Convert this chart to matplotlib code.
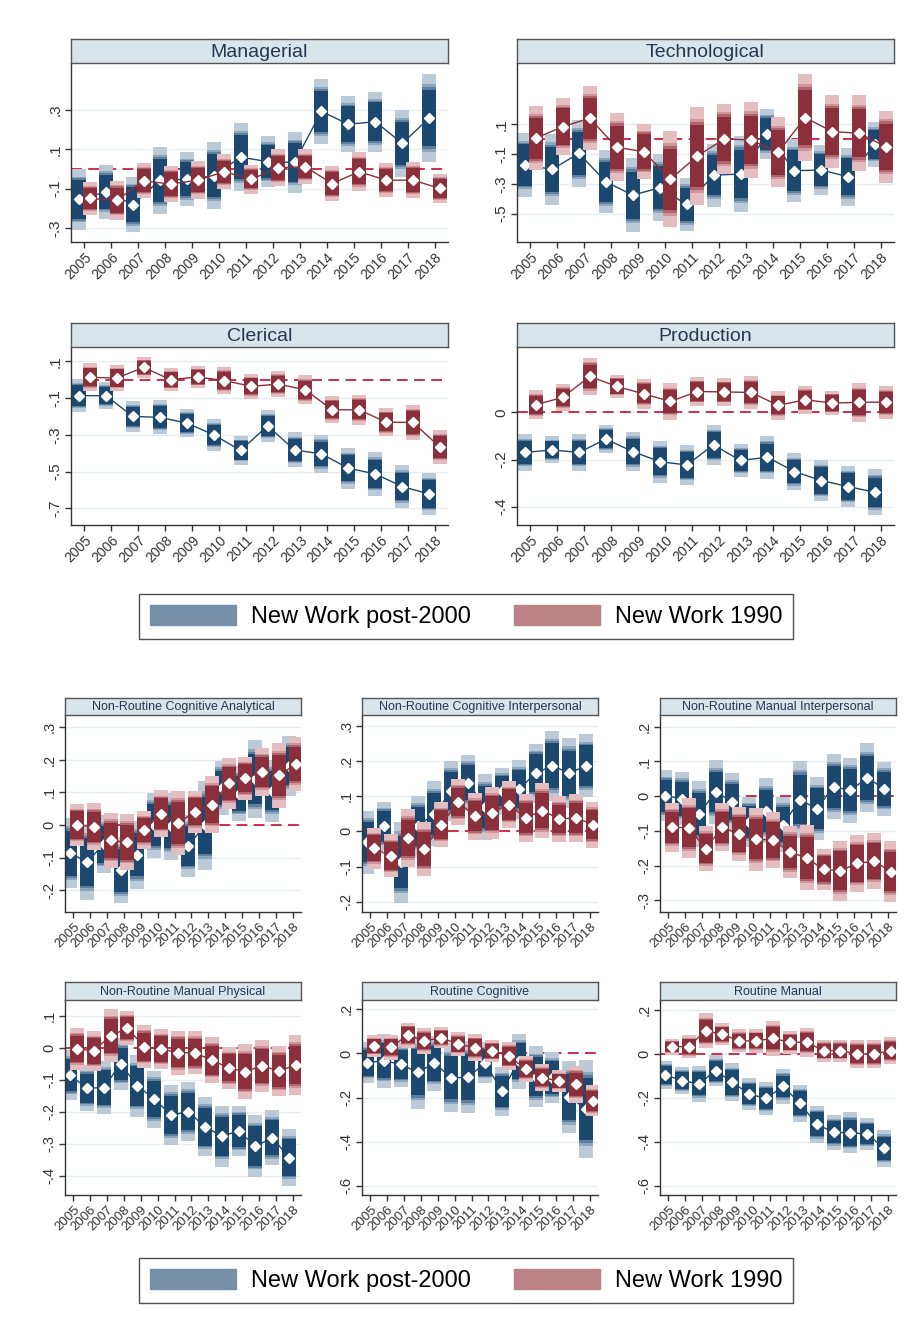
import matplotlib.pyplot as plt
from matplotlib.patches import Patch
import numpy as np

plt.rcParams['font.family'] = ['Liberation Sans', 'DejaVu Sans']

years = np.arange(2005, 2019)

# point estimates and 99% half-widths: post-2000 new work / 1990 new work
managerial_post = [-0.155, -0.116, -0.181, -0.057, -0.052, -0.035, 0.060, 0.037, 0.033, 0.292, 0.227, 0.240, 0.130, 0.258]
managerial_post_ci = [0.153, 0.136, 0.140, 0.170, 0.136, 0.170, 0.172, 0.131, 0.153, 0.163, 0.142, 0.153, 0.170, 0.225]
managerial_1990 = [-0.150, -0.159, -0.060, -0.077, -0.057, -0.014, -0.052, 0.006, 0.011, -0.074, -0.014, -0.057, -0.057, -0.099]
managerial_1990_ci = [0.085, 0.100, 0.090, 0.093, 0.095, 0.088, 0.073, 0.095, 0.088, 0.090, 0.100, 0.088, 0.093, 0.075]

technological_post = [-0.174, -0.203, -0.096, -0.287, -0.376, -0.327, -0.439, -0.242, -0.235, 0.035, -0.212, -0.208, -0.253, -0.035]
technological_post_ci = [0.216, 0.238, 0.227, 0.211, 0.247, 0.225, 0.178, 0.211, 0.256, 0.169, 0.213, 0.166, 0.193, 0.150]
technological_1990 = [0.006, 0.084, 0.140, -0.055, -0.084, -0.269, -0.113, 0.001, -0.006, -0.089, 0.145, 0.051, 0.039, -0.051]
technological_1990_ci = [0.216, 0.191, 0.216, 0.229, 0.184, 0.321, 0.329, 0.236, 0.254, 0.236, 0.293, 0.247, 0.254, 0.243]

clerical_post = [-0.087, -0.087, -0.200, -0.205, -0.236, -0.300, -0.385, -0.251, -0.382, -0.404, -0.482, -0.513, -0.582, -0.622]
clerical_post_ci = [0.090, 0.073, 0.084, 0.093, 0.076, 0.087, 0.078, 0.087, 0.095, 0.105, 0.111, 0.118, 0.116, 0.116]
clerical_1990 = [0.013, 0.009, 0.067, 0.000, 0.015, -0.005, -0.036, -0.024, -0.055, -0.164, -0.164, -0.231, -0.233, -0.367]
clerical_1990_ci = [0.076, 0.073, 0.056, 0.062, 0.060, 0.075, 0.067, 0.069, 0.078, 0.073, 0.082, 0.076, 0.096, 0.091]

production_post = [-0.170, -0.159, -0.170, -0.113, -0.166, -0.209, -0.223, -0.138, -0.204, -0.190, -0.251, -0.289, -0.315, -0.339]
production_post_ci = [0.078, 0.057, 0.078, 0.061, 0.084, 0.089, 0.085, 0.084, 0.070, 0.091, 0.078, 0.089, 0.088, 0.098]
production_1990 = [0.033, 0.064, 0.153, 0.111, 0.079, 0.047, 0.089, 0.087, 0.085, 0.030, 0.054, 0.040, 0.043, 0.044]
production_1990_ci = [0.061, 0.057, 0.079, 0.048, 0.064, 0.077, 0.061, 0.058, 0.071, 0.060, 0.060, 0.052, 0.082, 0.070]

nrca_post = [-0.086, -0.113, -0.059, -0.139, -0.091, -0.001, -0.004, -0.064, -0.001, 0.113, 0.096, 0.140, 0.105, 0.180]
nrca_post_ci = [0.108, 0.115, 0.089, 0.101, 0.104, 0.100, 0.102, 0.094, 0.136, 0.083, 0.084, 0.120, 0.095, 0.092]
nrca_1990 = [0.000, -0.006, -0.047, -0.053, -0.016, 0.035, 0.006, 0.040, 0.062, 0.127, 0.142, 0.162, 0.152, 0.186]
nrca_1990_ci = [0.065, 0.072, 0.084, 0.085, 0.058, 0.072, 0.099, 0.064, 0.087, 0.078, 0.067, 0.072, 0.099, 0.083]

nrci_post = [-0.031, 0.014, -0.088, 0.014, 0.050, 0.114, 0.138, 0.069, 0.114, 0.119, 0.165, 0.186, 0.165, 0.186]
nrci_post_ci = [0.090, 0.070, 0.115, 0.086, 0.093, 0.086, 0.079, 0.093, 0.067, 0.084, 0.084, 0.100, 0.100, 0.090]
nrci_1990 = [-0.048, -0.070, -0.019, -0.050, 0.019, 0.083, 0.043, 0.052, 0.076, 0.038, 0.059, 0.035, 0.038, 0.019]
nrci_1990_ci = [0.058, 0.061, 0.081, 0.076, 0.063, 0.064, 0.067, 0.074, 0.067, 0.068, 0.079, 0.064, 0.068, 0.065]

nrmi_post = [0.001, -0.007, -0.052, 0.012, -0.016, -0.074, -0.042, -0.082, -0.010, -0.036, 0.027, 0.017, 0.053, 0.021]
nrmi_post_ci = [0.073, 0.077, 0.095, 0.091, 0.082, 0.072, 0.094, 0.080, 0.112, 0.091, 0.094, 0.094, 0.099, 0.078]
nrmi_1990 = [-0.090, -0.091, -0.151, -0.090, -0.110, -0.124, -0.127, -0.161, -0.178, -0.211, -0.215, -0.194, -0.187, -0.218]
nrmi_1990_ci = [0.070, 0.087, 0.065, 0.069, 0.078, 0.091, 0.080, 0.074, 0.094, 0.059, 0.087, 0.082, 0.080, 0.088]

nrmp_post = [-0.086, -0.127, -0.125, -0.051, -0.120, -0.161, -0.211, -0.200, -0.247, -0.277, -0.261, -0.308, -0.282, -0.344]
nrmp_post_ci = [0.078, 0.072, 0.084, 0.080, 0.096, 0.089, 0.094, 0.092, 0.093, 0.095, 0.079, 0.096, 0.086, 0.089]
nrmp_1990 = [-0.004, -0.010, 0.037, 0.061, 0.003, -0.004, -0.016, -0.016, -0.039, -0.063, -0.075, -0.057, -0.073, -0.054]
nrmp_1990_ci = [0.065, 0.063, 0.083, 0.053, 0.068, 0.063, 0.069, 0.067, 0.071, 0.066, 0.085, 0.082, 0.079, 0.095]

rc_post = [-0.042, -0.033, -0.050, -0.085, -0.045, -0.110, -0.109, -0.042, -0.172, -0.035, -0.106, -0.110, -0.198, -0.252]
rc_post_ci = [0.092, 0.123, 0.102, 0.165, 0.124, 0.155, 0.163, 0.094, 0.110, 0.125, 0.138, 0.116, 0.164, 0.222]
rc_1990 = [0.033, 0.027, 0.083, 0.056, 0.071, 0.042, 0.026, 0.011, -0.011, -0.071, -0.110, -0.125, -0.140, -0.214]
rc_1990_ci = [0.049, 0.057, 0.057, 0.057, 0.048, 0.053, 0.060, 0.050, 0.063, 0.058, 0.062, 0.048, 0.083, 0.071]

rm_post = [-0.095, -0.121, -0.136, -0.076, -0.129, -0.183, -0.202, -0.148, -0.224, -0.320, -0.356, -0.358, -0.364, -0.429]
rm_post_ci = [0.064, 0.062, 0.082, 0.072, 0.087, 0.072, 0.076, 0.078, 0.085, 0.085, 0.079, 0.093, 0.074, 0.083]
rm_1990 = [0.033, 0.033, 0.105, 0.089, 0.059, 0.059, 0.071, 0.053, 0.053, 0.015, 0.015, 0.000, 0.000, 0.015]
rm_1990_ci = [0.036, 0.053, 0.079, 0.050, 0.052, 0.053, 0.079, 0.052, 0.065, 0.050, 0.050, 0.065, 0.065, 0.063]

legend_labels = ['New Work post-2000', 'New Work 1990']

# CI bands: 99, 95, ~93, 90 percent
Z_LEVELS = [2.576, 1.96, 1.80, 1.645]
BLUE_SHADES = ['#bccad7', '#8ea6bd', '#5d7f9f', '#1c4870']
RED_SHADES = ['#e3bdc0', '#cf959b', '#b0646d', '#8b2f3a']
BLUE_LINE = '#1c4870'
RED_LINE = '#8b2f3a'

W, H = 915, 1319
fig = plt.figure(figsize=(W / 100, H / 100), dpi=100)


def rect(x0, y0, x1, y1):
    return [x0 / W, 1 - y1 / H, (x1 - x0) / W, (y1 - y0) / H]


def fmt(v):
    s = '%g' % round(v, 3)
    return s.replace('0.', '.')


def draw_series(ax, x, est, hw, shades, line_color, z0):
    est = np.array(est)
    hw = np.array(hw)
    for i, (z, c) in enumerate(zip(Z_LEVELS, shades)):
        h = hw * z / Z_LEVELS[0]
        ax.vlines(x, est - h, est + h, colors=c, linewidth=10, capstyle='butt', zorder=z0 + i * 0.01)
    ax.plot(x, est, color=line_color, lw=1, zorder=z0 + 0.1)
    ax.plot(x, est, 'D', color='white', markersize=4.8, mec='white', zorder=z0 + 0.2)


def panel(px, strip_px, title, post, post_ci, old, old_ci, ylim, yticks, big):
    ax = fig.add_axes(rect(*px))
    st = fig.add_axes(rect(px[0], strip_px[0], px[2], strip_px[1]))
    st.set_facecolor('#d9e5eb')
    st.set_xticks([])
    st.set_yticks([])
    for s in st.spines.values():
        s.set_color('#555555')
        s.set_linewidth(1)
    st.text(0.5, 0.45, title, ha='center', va='center', fontsize=14 if big else 9, color='#2a3550')

    ax.axhline(0, color='#c8203c', lw=1.3, ls=(0, (6, 3.5)), zorder=1)
    draw_series(ax, years - 0.2, post, post_ci, BLUE_SHADES, BLUE_LINE, 2)
    draw_series(ax, years + 0.2, old, old_ci, RED_SHADES, RED_LINE, 3)

    ax.set_xlim(2004.5, 2018.5)
    ax.set_ylim(*ylim)
    ax.set_yticks(yticks)
    ax.set_yticklabels([fmt(v) for v in yticks], rotation=90, va='center',
                       fontsize=11 if big else 10.5)
    ax.set_xticks(years)
    ax.set_xticklabels([str(y) for y in years], rotation=45, ha='right',
                       rotation_mode='anchor', fontsize=10 if big else 9.5)
    ax.grid(axis='y', color='#e6eef1', lw=1)
    ax.set_axisbelow(True)
    for side in ['top', 'right']:
        ax.spines[side].set_visible(False)
    for side in ['left', 'bottom']:
        ax.spines[side].set_color('#333333')
        ax.spines[side].set_linewidth(1)
    ax.tick_params(colors='#333333', length=4, width=1, pad=2)


# upper block: occupation groups
panel((71, 63, 448, 242), (39, 63), 'Managerial', managerial_post, managerial_post_ci,
      managerial_1990, managerial_1990_ci, (-0.371, 0.538), [-0.3, -0.1, 0.1, 0.3], True)
panel((517, 63, 894, 242), (39, 63), 'Technological', technological_post, technological_post_ci,
      technological_1990, technological_1990_ci, (-0.691, 0.511), [-0.5, -0.3, -0.1, 0.1], True)
panel((71, 347, 448, 525), (323, 347), 'Clerical', clerical_post, clerical_post_ci,
      clerical_1990, clerical_1990_ci, (-0.791, 0.178), [-0.7, -0.5, -0.3, -0.1, 0.1], True)
panel((517, 347, 894, 525), (323, 347), 'Production', production_post, production_post_ci,
      production_1990, production_1990_ci, (-0.478, 0.278), [-0.4, -0.2, 0], True)

# lower block: task content
panel((65, 715, 301, 912), (698, 715), 'Non-Routine Cognitive Analytical', nrca_post, nrca_post_ci,
      nrca_1990, nrca_1990_ci, (-0.266, 0.336), [-0.2, -0.1, 0, 0.1, 0.2, 0.3], False)
panel((362, 715, 598, 912), (698, 715), 'Non-Routine Cognitive Interpersonal', nrci_post, nrci_post_ci,
      nrci_1990, nrci_1990_ci, (-0.229, 0.33), [-0.2, -0.1, 0, 0.1, 0.2, 0.3], False)
panel((660, 715, 896, 912), (698, 715), 'Non-Routine Manual Interpersonal', nrmi_post, nrmi_post_ci,
      nrmi_1990, nrmi_1990_ci, (-0.334, 0.234), [-0.3, -0.2, -0.1, 0, 0.1, 0.2], False)
panel((65, 1000, 301, 1195), (982, 1000), 'Non-Routine Manual Physical', nrmp_post, nrmp_post_ci,
      nrmp_1990, nrmp_1990_ci, (-0.461, 0.149), [-0.4, -0.3, -0.2, -0.1, 0, 0.1], False)
panel((362, 1000, 598, 1195), (982, 1000), 'Routine Cognitive', rc_post, rc_post_ci,
      rc_1990, rc_1990_ci, (-0.642, 0.242), [-0.6, -0.4, -0.2, 0, 0.2], False)
panel((660, 1000, 896, 1195), (982, 1000), 'Routine Manual', rm_post, rm_post_ci,
      rm_1990, rm_1990_ci, (-0.641, 0.245), [-0.6, -0.4, -0.2, 0, 0.2], False)

handles = [Patch(facecolor='#7590a8', edgecolor='#7590a8'),
           Patch(facecolor='#bb8385', edgecolor='#bb8385')]
for yc in (616.5, 1280.5):
    leg = fig.legend(handles, legend_labels, loc='center', bbox_to_anchor=(466 / W, 1 - yc / H),
                     ncol=2, fontsize=17, frameon=True, fancybox=False, handlelength=3.64,
                     handleheight=0.89, handletextpad=0.64, columnspacing=1.82, borderpad=0.45)
    leg.get_frame().set_edgecolor('#222222')
    leg.get_frame().set_linewidth(1)

fig.savefig('out.png', dpi=100)
